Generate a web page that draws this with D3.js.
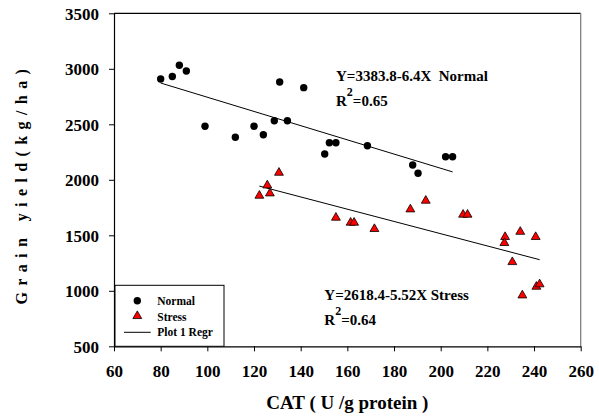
<!DOCTYPE html>
<html>
<head>
<meta charset="utf-8">
<script src="https://cdn.jsdelivr.net/npm/d3@7"></script>
<style>
  body { margin: 0; background: #fff; }
  svg text { font-family: 'Times New Roman', 'Liberation Serif', 'DejaVu Serif', serif; font-weight: bold; fill: #000; }
</style>
</head>
<body>
<div id="chart"></div>
<script>
// CAT (U/g protein) vs grain yield (kg/ha)
const normalCat = [80, 85, 88, 91, 99, 112, 120, 124, 128.7, 131, 134.3, 141.3, 150.3, 152.3, 155.1, 168.6, 188, 190.3, 202.1, 205.1];
const normalYield = [2908, 2930, 3032, 2980, 2482, 2383, 2482, 2406, 2532, 2881, 2532, 2830, 2232, 2334, 2334, 2307, 2133, 2059, 2208, 2208];

const stressCat = [122.3, 125.7, 126.8, 130.7, 155.1, 161.4, 162.9, 171.6, 187, 193.6, 209.6, 211.5, 227.6, 227.3, 234.1, 240.7, 230.7, 235, 241, 242.4];
const stressYield = [1857, 1950, 1878, 2064, 1659, 1614, 1614, 1557, 1734, 1812, 1686, 1686, 1485, 1431, 1532, 1485, 1259, 959, 1037, 1059];

// regression coefficients from the annotations: [intercept, slope]
const normalFit = [3383.8, -6.4];
const stressFit = [2618.4, -5.52];

const xTicks = [60, 80, 100, 120, 140, 160, 180, 200, 220, 240, 260];
const yTicks = [500, 1000, 1500, 2000, 2500, 3000, 3500];

const width = 599, height = 419;
const margin = { top: 13.3, right: 18.3, bottom: 72.7, left: 114 };
const serif = "'Times New Roman', 'Liberation Serif', 'DejaVu Serif', serif";

const svg = d3.select('#chart').append('svg')
    .attr('width', width)
    .attr('height', height);

const x = d3.scaleLinear().domain([60, 260]).range([margin.left, width - margin.right]);
const y = d3.scaleLinear().domain([500, 3500]).range([height - margin.bottom, margin.top]);

// frame: top and right borders
svg.append('line')
    .attr('x1', x(60)).attr('x2', x(260))
    .attr('y1', y(3500)).attr('y2', y(3500))
    .attr('stroke', '#000').attr('stroke-width', 1.2);
svg.append('line')
    .attr('x1', x(260)).attr('x2', x(260))
    .attr('y1', y(3500)).attr('y2', y(500))
    .attr('stroke', '#777').attr('stroke-width', 1.2);

// axes
const xAxis = svg.append('g')
    .attr('transform', `translate(0,${y(500)})`)
    .call(d3.axisBottom(x).tickValues(xTicks).tickFormat(d3.format('d'))
        .tickSize(5).tickPadding(14).tickSizeOuter(0));
const yAxis = svg.append('g')
    .attr('transform', `translate(${x(60)},0)`)
    .call(d3.axisLeft(y).tickValues(yTicks).tickFormat(d3.format('d'))
        .tickSize(5).tickPadding(10).tickSizeOuter(0));

[xAxis, yAxis].forEach(g => {
    g.attr('font-family', serif);
    g.select('.domain').attr('stroke', '#000').attr('stroke-width', 1.2);
    g.selectAll('.tick line').attr('stroke', '#000');
    g.selectAll('.tick text')
        .attr('font-family', serif)
        .style('font-weight', 'bold')
        .style('font-size', '17px');
});
yAxis.selectAll('.tick text').attr('dy', '0.35em');

// axis titles
svg.append('text')
    .attr('x', x(160))
    .attr('y', 409)
    .attr('text-anchor', 'middle')
    .style('font-size', '19px')
    .text('CAT ( U /g protein )');

svg.append('text')
    .attr('transform', `translate(27,${y(1965)}) rotate(-90)`)
    .attr('text-anchor', 'middle')
    .style('font-size', '16px')
    .style('letter-spacing', '6.4px')
    .text('Grain  yield(kg/ha)');

// regression lines
const fitLine = (fit, xs) => {
    const ext = d3.extent(xs);
    return ext.map(v => [x(v), y(fit[0] + fit[1] * v)]);
};
svg.append('path')
    .attr('d', d3.line()(fitLine(normalFit, normalCat)))
    .attr('stroke', '#000').attr('stroke-width', 1).attr('fill', 'none');
svg.append('path')
    .attr('d', d3.line()(fitLine(stressFit, stressCat)))
    .attr('stroke', '#000').attr('stroke-width', 1).attr('fill', 'none');

// points
svg.append('g').selectAll('circle')
    .data(normalCat.map((c, i) => [c, normalYield[i]]))
    .enter().append('circle')
    .attr('cx', d => x(d[0]))
    .attr('cy', d => y(d[1]))
    .attr('r', 3.7)
    .attr('fill', '#000');

const tri = d3.symbol().type(d3.symbolTriangle).size(34);
svg.append('g').selectAll('path')
    .data(stressCat.map((c, i) => [c, stressYield[i]]))
    .enter().append('path')
    .attr('d', tri)
    .attr('transform', d => `translate(${x(d[0])},${y(d[1])})`)
    .attr('fill', '#ff0000')
    .attr('stroke', '#000')
    .attr('stroke-width', 0.8);

// equations
const eq = (px, py, line1, r2) => {
    svg.append('text').attr('x', px).attr('y', py)
        .style('font-size', '15px').text(line1);
    const t = svg.append('text').attr('x', px).attr('y', py + 25)
        .style('font-size', '15px');
    t.append('tspan').text('R');
    t.append('tspan').attr('dy', -10).style('font-size', '12px').text('2');
    t.append('tspan').attr('dy', 10).text('=' + r2);
};
eq(336, 81.3, 'Y=3383.8-6.4X\u00a0\u00a0Normal', '0.65');
eq(324.3, 300, 'Y=2618.4-5.52X Stress', '0.64');

// legend
const lg = svg.append('g');
lg.append('rect')
    .attr('x', 115).attr('y', 285.3)
    .attr('width', 109).attr('height', y(500) - 285.3)
    .attr('fill', '#fff').attr('stroke', '#000').attr('stroke-width', 1);
lg.append('circle').attr('cx', 137.3).attr('cy', 300.7).attr('r', 3.7).attr('fill', '#000');
lg.append('path').attr('d', tri).attr('transform', 'translate(137.3,316)')
    .attr('fill', '#ff0000').attr('stroke', '#000').attr('stroke-width', 0.8);
lg.append('line').attr('x1', 124).attr('x2', 150.7).attr('y1', 332.3).attr('y2', 332.3)
    .attr('stroke', '#000').attr('stroke-width', 1);
[['Normal', 305], ['Stress', 320.5], ['Plot 1 Regr', 336]].forEach(([t, py]) => {
    lg.append('text').attr('x', 157.3).attr('y', py).style('font-size', '11.5px').text(t);
});
</script>
</body>
</html>
